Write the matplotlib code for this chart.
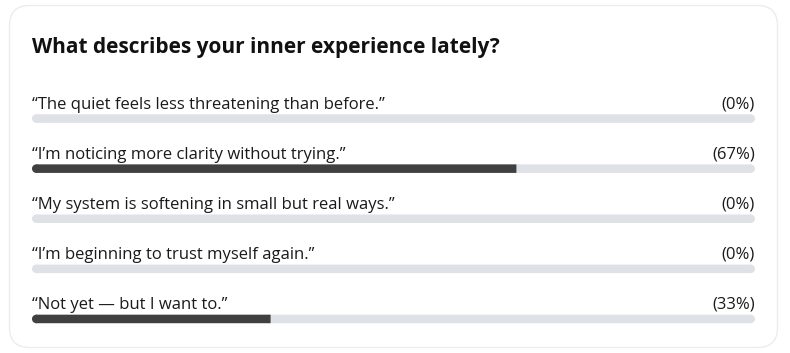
import matplotlib
matplotlib.use("Agg")
import matplotlib.pyplot as plt
from matplotlib.patches import FancyBboxPatch, Rectangle, Ellipse

# poll data
title = "What describes your inner experience lately?"
options = [
    "\u201cThe quiet feels less threatening than before.\u201d",
    "\u201cI\u2019m noticing more clarity without trying.\u201d",
    "\u201cMy system is softening in small but real ways.\u201d",
    "\u201cI\u2019m beginning to trust myself again.\u201d",
    "\u201cNot yet \u2014 but I want to.\u201d",
]
percents = [0, 67, 0, 0, 33]

W, H = 790, 353
plt.rcParams['font.family'] = ['Open Sans', 'DejaVu Sans']

fig = plt.figure(figsize=(W / 100, H / 100), dpi=100)
fig.patch.set_facecolor("white")

# card background
bg = fig.add_axes([0, 0, 1, 1])
bg.set_xlim(0, W)
bg.set_ylim(H, 0)
bg.axis("off")
card = FancyBboxPatch((9.5, 5.5), 768, 342, boxstyle="round,pad=0,rounding_size=20",
                      facecolor="white", edgecolor="#ececec", linewidth=1)
bg.add_patch(card)
bg.text(32, 53, title, fontsize=15, fontweight="bold", color="#111111", va="baseline")

# bars axes (pixel layout)
left, width = 32, 723
top, height = 93.5, 250.5
ax = fig.add_axes([left / W, 1 - (top + height) / H, width / W, height / H])
ax.set_xlim(0, 100)
ax.set_ylim(len(options) - 0.5, -0.5)
ax.axis("off")

px_x = width / 100.0
px_y = height / len(options)
bar_px = 8.5
bar_h = bar_px / px_y
r = bar_px / 2 / px_x

track_col = "#dee1e6"
fill_col = "#404040"


def pill_end(x, y, col):
    e = Ellipse((x, y), 2 * r, bar_h, facecolor=col, edgecolor="none", zorder=2)
    ax.add_patch(e)


for i, (label, p) in enumerate(zip(options, percents)):
    ax.add_patch(Rectangle((r, i - bar_h / 2), 100 - 2 * r, bar_h, facecolor=track_col,
                           edgecolor="none", snap=False, zorder=1))
    pill_end(r, i, track_col)
    pill_end(100 - r, i, track_col)
    if p > 0:
        ax.add_patch(Rectangle((r, i - bar_h / 2), p - r, bar_h, facecolor=fill_col,
                               edgecolor="none", snap=False, zorder=3))
        pill_end(r, i, fill_col)
    ax.text(0, i - 0.2, label, fontsize=12, color="#1a1a1a", va="baseline", ha="left")
    ax.text(100, i - 0.2, "(%d%%)" % p, fontsize=12, color="#1a1a1a", va="baseline", ha="right")

fig.savefig("out.png", dpi=100, facecolor="white")
